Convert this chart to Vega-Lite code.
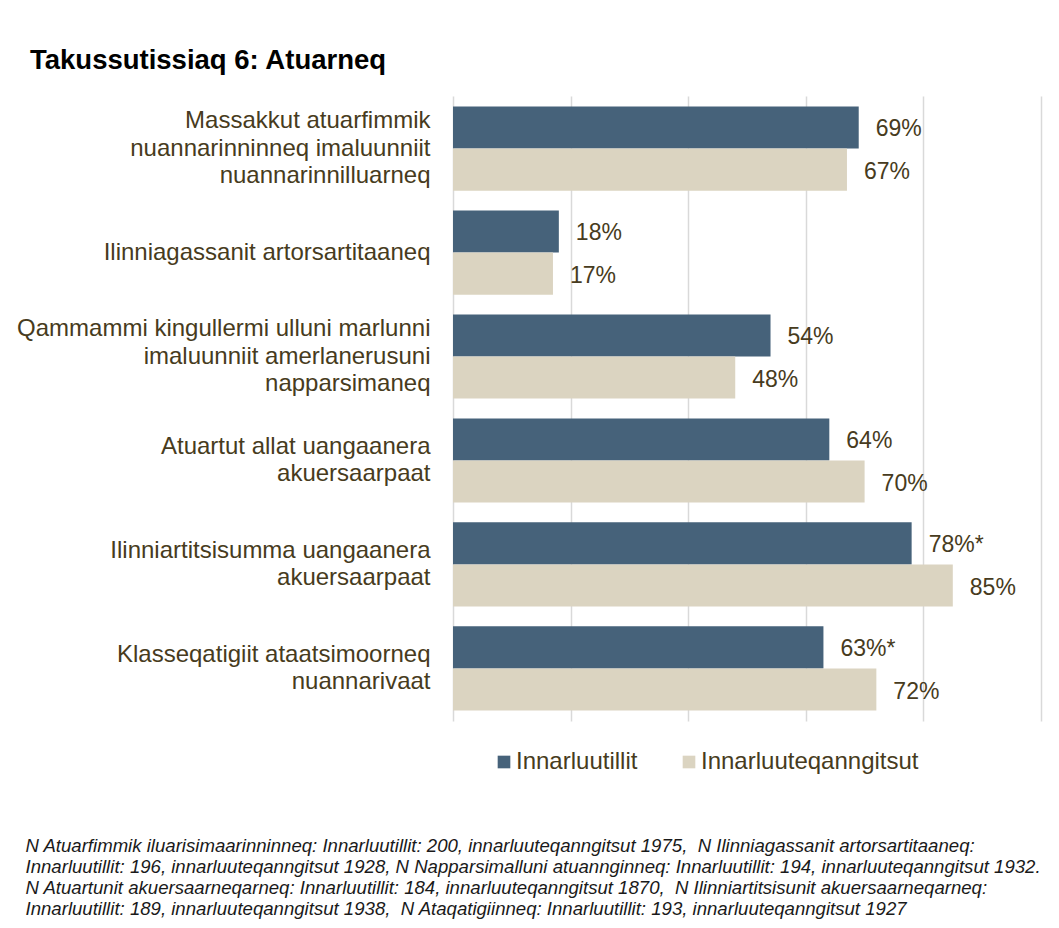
{
  "$schema": "https://vega.github.io/schema/vega-lite/v6.json",
  "width": 588,
  "height": 625,
  "autosize": {"type": "none"},
  "padding": {"left": 453, "top": 96, "right": 18, "bottom": 207},
  "background": "white",
  "title": {
    "text": "Takussutissiaq 6: Atuarneq",
    "anchor": "start",
    "frame": "group",
    "dx": -423,
    "offset": 22,
    "font": "Liberation Sans",
    "fontSize": 27.5,
    "fontWeight": "bold",
    "color": "#000000"
  },
  "data": {
    "values": [
      {"category": "Massakkut atuarfimmik|nuannarinninneq imaluunniit|nuannarinnilluarneq", "group": "Innarluutillit", "value": 69, "label": "69%"},
      {"category": "Massakkut atuarfimmik|nuannarinninneq imaluunniit|nuannarinnilluarneq", "group": "Innarluuteqanngitsut", "value": 67, "label": "67%"},
      {"category": "Ilinniagassanit artorsartitaaneq", "group": "Innarluutillit", "value": 18, "label": "18%"},
      {"category": "Ilinniagassanit artorsartitaaneq", "group": "Innarluuteqanngitsut", "value": 17, "label": "17%"},
      {"category": "Qammammi kingullermi ulluni marlunni|imaluunniit amerlanerusuni|napparsimaneq", "group": "Innarluutillit", "value": 54, "label": "54%"},
      {"category": "Qammammi kingullermi ulluni marlunni|imaluunniit amerlanerusuni|napparsimaneq", "group": "Innarluuteqanngitsut", "value": 48, "label": "48%"},
      {"category": "Atuartut allat uangaanera|akuersaarpaat", "group": "Innarluutillit", "value": 64, "label": "64%"},
      {"category": "Atuartut allat uangaanera|akuersaarpaat", "group": "Innarluuteqanngitsut", "value": 70, "label": "70%"},
      {"category": "Ilinniartitsisumma uangaanera|akuersaarpaat", "group": "Innarluutillit", "value": 78, "label": "78%*"},
      {"category": "Ilinniartitsisumma uangaanera|akuersaarpaat", "group": "Innarluuteqanngitsut", "value": 85, "label": "85%"},
      {"category": "Klasseqatigiit ataatsimoorneq|nuannarivaat", "group": "Innarluutillit", "value": 63, "label": "63%*"},
      {"category": "Klasseqatigiit ataatsimoorneq|nuannarivaat", "group": "Innarluuteqanngitsut", "value": 72, "label": "72%"}
    ]
  },
  "encoding": {
    "y": {
      "field": "category",
      "type": "nominal",
      "sort": null,
      "scale": {"paddingInner": 0.19, "paddingOuter": 0.1},
      "axis": {
        "title": null,
        "labelExpr": "split(datum.value, '|')",
        "labelFont": "Liberation Sans",
        "labelFontSize": 24,
        "labelLineHeight": 27.5,
        "labelColor": "#473b20",
        "labelPadding": 23,
        "labelLimit": 500,
        "ticks": false,
        "domain": false,
        "grid": false,
        "labelOffset": {
          "condition": [
            {"test": "length(split(datum.value, '|')) == 3", "value": -27.5},
            {"test": "length(split(datum.value, '|')) == 2", "value": -13.75}
          ],
          "value": 0
        }
      }
    },
    "yOffset": {
      "field": "group",
      "type": "nominal",
      "sort": null,
      "scale": {"domain": ["Innarluutillit", "Innarluuteqanngitsut"], "paddingInner": 0, "paddingOuter": 0}
    },
    "x": {
      "field": "value",
      "type": "quantitative",
      "scale": {"domain": [0, 100], "nice": false},
      "axis": {
        "grid": true,
        "gridColor": "#d9d9d9",
        "gridWidth": 1.5,
        "values": [0, 20, 40, 60, 80, 100],
        "labels": false,
        "ticks": false,
        "domain": false,
        "title": [
          "N Atuarfimmik iluarisimaarinninneq: Innarluutillit: 200, innarluuteqanngitsut 1975,\u00a0 N Ilinniagassanit artorsartitaaneq:",
          "Innarluutillit: 196, innarluuteqanngitsut 1928, N Napparsimalluni atuannginneq: Innarluutillit: 194, innarluuteqanngitsut 1932.",
          "N Atuartunit akuersaarneqarneq: Innarluutillit: 184, innarluuteqanngitsut 1870,\u00a0 N Ilinniartitsisunit akuersaarneqarneq:",
          "Innarluutillit: 189, innarluuteqanngitsut 1938,\u00a0 N Ataqatigiinneq: Innarluutillit: 193, innarluuteqanngitsut 1927"
        ],
        "titleFont": "Liberation Sans",
        "titleFontSize": 18.6,
        "titleFontStyle": "italic",
        "titleFontWeight": "normal",
        "titleColor": "#1a1a1a",
        "titleAlign": "left",
        "titleAnchor": "start",
        "titleAngle": 0,
        "titleX": -428,
        "titleY": 115,
        "titleBaseline": "top",
        "titleLineHeight": 21
      }
    }
  },
  "layer": [
    {
      "mark": {"type": "bar"},
      "encoding": {
        "color": {
          "field": "group",
          "type": "nominal",
          "sort": null,
          "scale": {"domain": ["Innarluutillit", "Innarluuteqanngitsut"], "range": ["#46627a", "#dbd4c1"]},
          "legend": {
            "orient": "none",
            "legendX": 39,
            "legendY": 654,
            "direction": "horizontal",
            "title": null,
            "symbolType": "square",
            "symbolSize": 160,
            "symbolStrokeWidth": 0,
            "symbolOpacity": 1,
            "labelFont": "Liberation Sans",
            "labelFontSize": 24,
            "labelColor": "#473b20",
            "labelOffset": 0,
            "columnPadding": 39,
            "labelLimit": 400
          }
        }
      }
    },
    {
      "mark": {"type": "text", "align": "left", "baseline": "middle", "dx": 17, "dy": 2, "font": "Liberation Sans", "fontSize": 23, "color": "#473b20"},
      "encoding": {"text": {"field": "label", "type": "nominal"}}
    }
  ],
  "config": {"view": {"stroke": null}}
}
